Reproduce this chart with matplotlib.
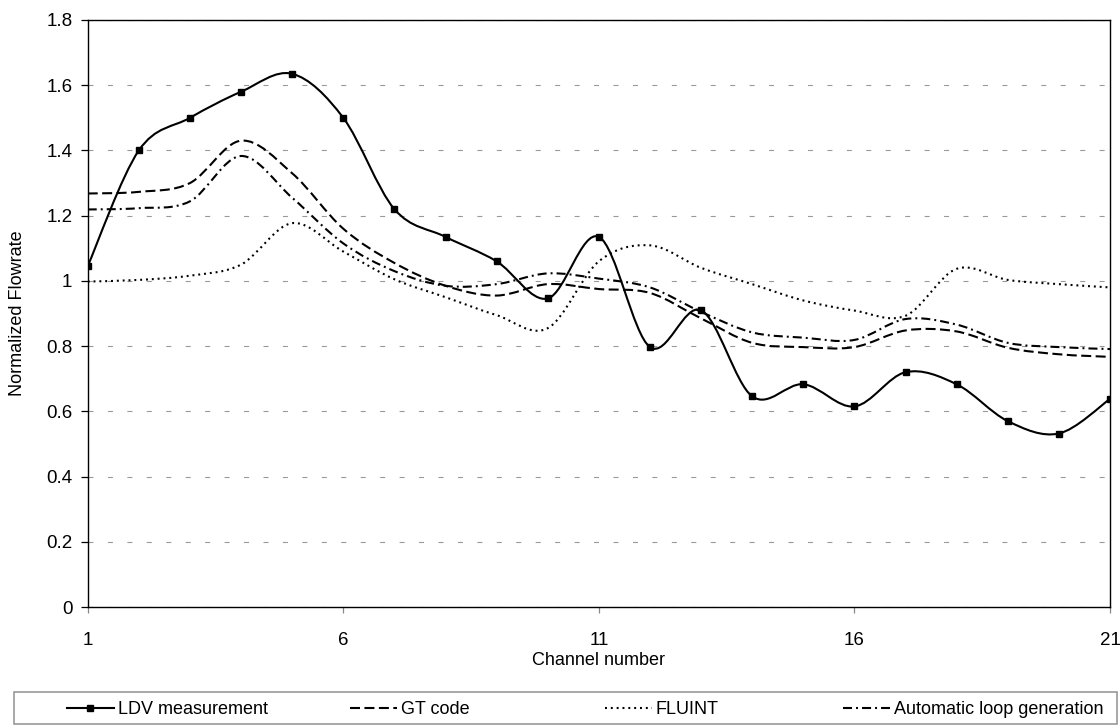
import matplotlib
matplotlib.use("Agg")
import matplotlib.pyplot as plt
from matplotlib.path import Path
from matplotlib.patches import PathPatch, Rectangle
from matplotlib.lines import Line2D

plt.rcParams['font.family'] = ['Liberation Sans', 'DejaVu Sans']
plt.rcParams['lines.scale_dashes'] = False

channels = list(range(1, 22))
ldv = [1.045, 1.40, 1.50, 1.58, 1.635, 1.50, 1.22, 1.135, 1.06, 0.946, 1.135,
       0.797, 0.91, 0.646, 0.683, 0.615, 0.72, 0.683, 0.57, 0.532, 0.638]
gt_code = [1.268, 1.273, 1.300, 1.430, 1.33, 1.16, 1.055, 0.985, 0.955, 0.99, 0.975,
           0.963, 0.885, 0.81, 0.797, 0.797, 0.848, 0.845, 0.795, 0.775, 0.767]
fluint = [0.998, 1.003, 1.016, 1.05, 1.177, 1.09, 1.005, 0.95, 0.895, 0.855, 1.06,
          1.109, 1.04, 0.99, 0.94, 0.909, 0.893, 1.037, 1.003, 0.99, 0.98]
auto_loop = [1.219, 1.223, 1.244, 1.383, 1.255, 1.115, 1.03, 0.985, 0.99, 1.023, 1.007,
             0.98, 0.905, 0.842, 0.826, 0.819, 0.883, 0.866, 0.81, 0.797, 0.791]

series_names = ["LDV measurement", "GT code", "FLUINT", "Automatic loop generation"]
xtick_vals = [1, 6, 11, 16, 21]
ytick_vals = [0, 0.2, 0.4, 0.6, 0.8, 1.0, 1.2, 1.4, 1.6, 1.8]
ytick_labels = ['0', '0.2', '0.4', '0.6', '0.8', '1', '1.2', '1.4', '1.6', '1.8']


def smooth_path(x, y):
    """Excel-style smoothed line as cubic Bezier segments."""
    n = len(x)
    verts = [(x[0], y[0])]
    codes = [Path.MOVETO]
    for i in range(n - 1):
        a = i - 1 if i > 0 else i
        d = i + 2 if i + 2 < n else i + 1
        c1 = (x[i] + (x[i + 1] - x[a]) / 6.0, y[i] + (y[i + 1] - y[a]) / 6.0)
        c2 = (x[i + 1] - (x[d] - x[i]) / 6.0, y[i + 1] - (y[d] - y[i]) / 6.0)
        verts += [c1, c2, (x[i + 1], y[i + 1])]
        codes += [Path.CURVE4] * 3
    return Path(verts, codes)


fig = plt.figure(figsize=(11.2, 7.25), dpi=100)
ax = fig.add_axes([87.7 / 1120, 1 - 607 / 725, (1110 - 87.7) / 1120, (607 - 20) / 725])

lw = 1.5
styles = {
    "LDV measurement": '-',
    "GT code": (0, (7.2, 3.2)),
    "FLUINT": (0, (1.4, 2.8)),
    "Automatic loop generation": (0, (6.5, 2.9, 1.4, 2.9)),
}
data = {
    "LDV measurement": ldv,
    "GT code": gt_code,
    "FLUINT": fluint,
    "Automatic loop generation": auto_loop,
}

for name in series_names:
    patch = PathPatch(smooth_path(channels, data[name]), fill=False,
                      edgecolor='black', lw=lw, linestyle=styles[name],
                      capstyle='butt', zorder=3)
    ax.add_patch(patch)

ax.plot(channels, ldv, linestyle='none', marker='s', ms=5, color='black', zorder=4)

ax.set_xlim(1, 21)
ax.set_ylim(0, 1.8)
ax.set_xticks(xtick_vals)
ax.set_xticklabels([str(v) for v in xtick_vals])
ax.set_yticks(ytick_vals)
ax.set_yticklabels(ytick_labels)

ax.yaxis.grid(True, color='#999999', lw=0.8, linestyle=(0, (3.6, 10.4)))
ax.set_axisbelow(True)

for sp in ax.spines.values():
    sp.set_color('black')
    sp.set_linewidth(1.0)

ax.tick_params(axis='y', direction='out', length=5, width=0.9, pad=6,
               labelsize=13.5, color='black')
ax.tick_params(axis='x', direction='out', length=4.5, width=0.9, pad=13.5,
               labelsize=13.5, color='#888888')

ax.set_xlabel("Channel number", fontsize=13)
ax.set_ylabel("Normalized Flowrate", fontsize=13)
ax.xaxis.set_label_coords(0.5, -0.077)
ax.yaxis.set_label_coords(-0.06, 0.5)

# Legend frame
fig.patches.append(Rectangle((14 / 1120, 0.002), (1117 - 14) / 1120, (724 - 691) / 725 - 0.002,
                             transform=fig.transFigure, fill=False,
                             edgecolor='#999999', lw=1.2))

text_x = [117, 400, 655, 893]
for name, tx in zip(series_names, text_x):
    if name == "LDV measurement":
        h = Line2D([], [], color='black', lw=lw, linestyle='-', marker='s', ms=4)
    else:
        h = Line2D([], [], color='black', lw=lw, linestyle=styles[name])
    fig.legend([h], [name], loc='center left',
               bbox_to_anchor=((tx - 50) / 1120, 1 - 710 / 725),
               frameon=False, fontsize=13, handlelength=2.6,
               handletextpad=0.2, borderpad=0, borderaxespad=0,
               numpoints=1)

fig.savefig("out.png", dpi=100)
